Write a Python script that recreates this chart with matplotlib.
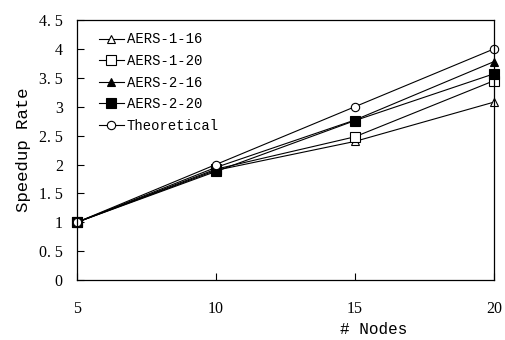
import matplotlib
matplotlib.use("Agg")
from matplotlib import pyplot as plt

# data
nodes = [5, 10, 15, 20]
aers_1_16 = [1.0, 1.90, 2.40, 3.08]
aers_1_20 = [1.0, 1.92, 2.48, 3.45]
aers_2_16 = [1.0, 1.95, 2.77, 3.78]
aers_2_20 = [1.0, 1.88, 2.76, 3.57]
theoretical = [1.0, 2.0, 3.0, 4.0]
y_ticks = [0, 0.5, 1, 1.5, 2, 2.5, 3, 3.5, 4, 4.5]
y_tick_labels = ['0', '0. 5', '1', '1. 5', '2', '2. 5', '3', '3. 5', '4', '4. 5']

plt.rcParams['font.family'] = ['Liberation Mono', 'DejaVu Sans Mono']

fig = plt.figure(figsize=(5.05, 3.4), dpi=100)
ax = fig.add_axes([0.152, 0.176, 0.826, 0.765])

series = [
    ('AERS-1-16', aers_1_16, '^', 'white'),
    ('AERS-1-20', aers_1_20, 's', 'white'),
    ('AERS-2-16', aers_2_16, '^', 'black'),
    ('AERS-2-20', aers_2_20, 's', 'black'),
    ('Theoretical', theoretical, 'o', 'white'),
]
for name, vals, mk, fc in series:
    ax.plot(nodes, vals, color='black', linewidth=0.8, marker=mk,
            markerfacecolor=fc, markeredgecolor='black', markeredgewidth=0.8,
            markersize=6 if mk != 's' else 6.5, label=name, clip_on=False)

ax.set_xlim(5, 20)
ax.set_ylim(0, 4.5)
ax.set_xticks(nodes)
ax.set_yticks(y_ticks)
ax.set_yticklabels(y_tick_labels)
ax.tick_params(axis='both', direction='in', length=5, width=0.8, labelsize=11.5)
ax.tick_params(axis='x', pad=15)
ax.tick_params(axis='y', pad=10)
for lbl in ax.get_xticklabels() + ax.get_yticklabels():
    lbl.set_family('Liberation Serif')
for sp in ax.spines.values():
    sp.set_linewidth(0.9)

ax.set_ylabel('Speedup Rate', fontsize=12.5, labelpad=6)
fig.text(0.74, 0.008, '# Nodes', fontsize=11.5, ha='center', va='bottom')

leg = ax.legend(loc='upper left', frameon=False, fontsize=10, handlelength=1.8,
                handletextpad=0.2, labelspacing=0.55, borderaxespad=0.3,
                bbox_to_anchor=(0.03, 0.99))

fig.savefig('out.png', dpi=100)
